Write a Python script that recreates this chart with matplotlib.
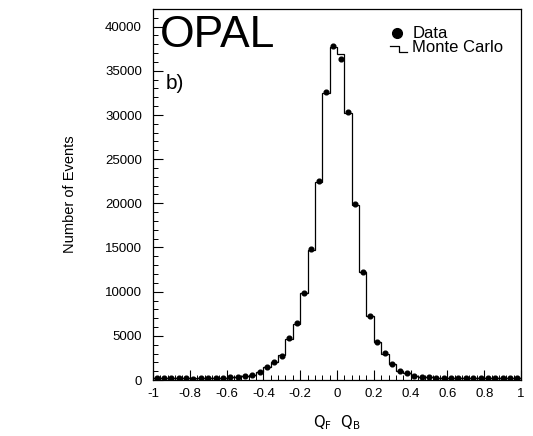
import numpy as np
import matplotlib
matplotlib.use("Agg")
import matplotlib.pyplot as plt
from matplotlib.ticker import MultipleLocator, FixedLocator

# Bin edges: 50 bins of width 0.04 from -1 to 1
bin_lo = -1.0
bin_hi = 1.0
n_bins = 50

data_counts = [200, 180, 220, 170, 200, 160, 190, 170, 210, 230,
               330, 380, 470, 560, 900, 1500, 2050, 2750, 4700, 6400,
               9850, 14800, 22550, 32600, 37800, 36300, 30300, 19900, 12200, 7250,
               4250, 3050, 1850, 1000, 820, 480, 380, 320, 280, 250,
               230, 190, 220, 180, 200, 170, 190, 180, 200, 190]

mc_counts = [190, 190, 200, 180, 190, 180, 180, 180, 200, 230,
             320, 380, 460, 560, 850, 1450, 2000, 2800, 4650, 6350,
             9900, 14700, 22400, 32500, 37700, 36900, 30200, 19800, 12250, 7200,
             4300, 3000, 1850, 1050, 800, 500, 390, 320, 280, 250,
             230, 210, 200, 190, 190, 180, 180, 180, 190, 190]

x_ticks = [-1, -0.8, -0.6, -0.4, -0.2, 0, 0.2, 0.4, 0.6, 0.8, 1]
x_tick_labels = ["-1", "-0.8", "-0.6", "-0.4", "-0.2", "0", "0.2", "0.4", "0.6", "0.8", "1"]
y_ticks = [0, 5000, 10000, 15000, 20000, 25000, 30000, 35000, 40000]

edges = np.linspace(bin_lo, bin_hi, n_bins + 1)
centers = 0.5 * (edges[:-1] + edges[1:])

plt.rcParams['font.family'] = ['Liberation Sans', 'DejaVu Sans']

fig = plt.figure(figsize=(5.33, 4.36), dpi=100)
ax = fig.add_axes([153 / 533, 1 - 380 / 436, (521 - 153) / 533, (380 - 9) / 436])

ax.stairs(mc_counts, edges, color='black', linewidth=0.9)
ax.plot(centers, data_counts, 'o', color='black', markersize=3.4, zorder=3)

ax.set_xlim(-1, 1)
ax.set_ylim(0, 42000)

ax.xaxis.set_major_locator(FixedLocator(x_ticks))
ax.set_xticklabels(x_tick_labels)
ax.xaxis.set_minor_locator(MultipleLocator(0.04))
ax.yaxis.set_major_locator(FixedLocator(y_ticks))
ax.yaxis.set_minor_locator(MultipleLocator(1000))

ax.tick_params(axis='both', which='major', direction='in', length=7, width=0.8,
               labelsize=9.5, top=False, right=False)
ax.tick_params(axis='both', which='minor', direction='in', length=3.5, width=0.7,
               top=False, right=False)
ax.tick_params(axis='x', which='major', pad=6)
ax.tick_params(axis='y', which='major', pad=8)

for s in ax.spines.values():
    s.set_linewidth(0.9)

ax.set_ylabel("Number of Events", fontsize=10.5, labelpad=20)
ax.set_xlabel(r"$\mathrm{Q_F\ \ Q_B}$", fontsize=10.5, labelpad=9)

ax.text(0.02, 0.985, "OPAL", transform=ax.transAxes, fontsize=32,
        va='top', ha='left')
ax.text(0.035, 0.80, "b)", transform=ax.transAxes, fontsize=15,
        va='center', ha='left')

# Legend
ax.plot([0.663], [0.935], 'o', color='black', markersize=7, transform=ax.transAxes,
        clip_on=False)
ax.text(0.705, 0.935, "Data", transform=ax.transAxes, fontsize=12, va='center', ha='left')
ax.plot([0.645, 0.668, 0.668, 0.69], [0.9, 0.9, 0.885, 0.885], color='black',
        linewidth=0.9, transform=ax.transAxes)
ax.text(0.705, 0.895, "Monte Carlo", transform=ax.transAxes, fontsize=12,
        va='center', ha='left')

fig.savefig("out.png", dpi=100)
